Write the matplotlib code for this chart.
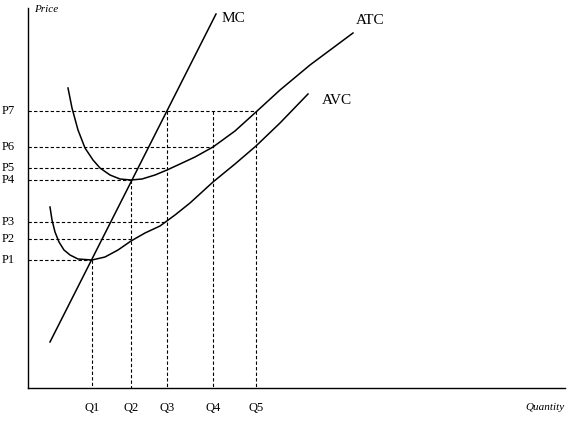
import matplotlib.pyplot as plt
import numpy as np

plt.rcParams['font.family'] = 'Liberation Serif'

H = 421
q_labels = ['Q1', 'Q2', 'Q3', 'Q4', 'Q5']
q_pos = [92, 131, 167, 213, 256]
p_labels = ['P7', 'P6', 'P5', 'P4', 'P3', 'P2', 'P1']
p_pos = [111, 147, 168, 180, 222, 239, 260]
# dashed guide lines: (price level, right end x)
guide_ends = [256, 213, 167, 131, 167, 131, 92]
# vertical guides: top y for each Q
q_tops = [260, 180, 111, 111, 111]

mc_x = [50, 216]
mc_y = [342, 14]
atc_x = [68, 72, 78, 85, 93, 100, 110, 120, 131, 142, 155, 167, 180, 195, 213, 235, 256, 280, 310, 353]
atc_y = [88, 108, 130, 148, 160, 168, 175, 179, 180, 179, 175, 170, 164, 157, 147, 131, 112, 90, 65, 33]
avc_x = [50, 52, 55, 59, 64, 70, 78, 92, 105, 118, 131, 145, 160, 175, 190, 213, 235, 256, 280, 308]
avc_y = [207, 220, 232, 242, 250, 255, 259, 260, 257, 250, 241, 233, 226, 215, 203, 182, 164, 146, 123, 94]

fig = plt.figure(figsize=(5.74, 4.21), dpi=100)
ax = fig.add_axes([0, 0, 1, 1])
ax.set_xlim(0, 574)
ax.set_ylim(0, H)
ax.axis('off')

def y(v):
    return H - np.array(v)

# axes
ax.plot([28, 28], y([8, 388]), color='black', lw=1)
ax.plot([28, 565], y([388, 388]), color='black', lw=1)

for p, xe in zip(p_pos, guide_ends):
    ax.plot([28, xe], y([p, p]), color='black', lw=0.8, ls=(0, (3, 2)))
for q, t in zip(q_pos, q_tops):
    ax.plot([q, q], y([t, 388]), color='black', lw=0.8, ls=(0, (3, 2)))

ax.plot(mc_x, y(mc_y), color='black', lw=1.1)
ax.plot(atc_x, y(atc_y), color='black', lw=1.1)
ax.plot(avc_x, y(avc_y), color='black', lw=1.1)

for lab, p in zip(p_labels, p_pos):
    ax.text(2, H - p, lab, fontsize=9, va='center', ha='left')
for lab, q in zip(q_labels, q_pos):
    ax.text(q, H - 408, lab, fontsize=9, va='center', ha='center')

ax.text(222, H - 18, 'MC', fontsize=11, va='center')
ax.text(356, H - 20, 'ATC', fontsize=11, va='center')
ax.text(322, H - 101, 'AVC', fontsize=11, va='center')
ax.text(34, H - 10, 'Price', fontsize=8, style='italic', va='center')
ax.text(565, H - 407, 'Quantity', fontsize=8, style='italic', va='center', ha='right')

fig.savefig('out.png', dpi=100)
